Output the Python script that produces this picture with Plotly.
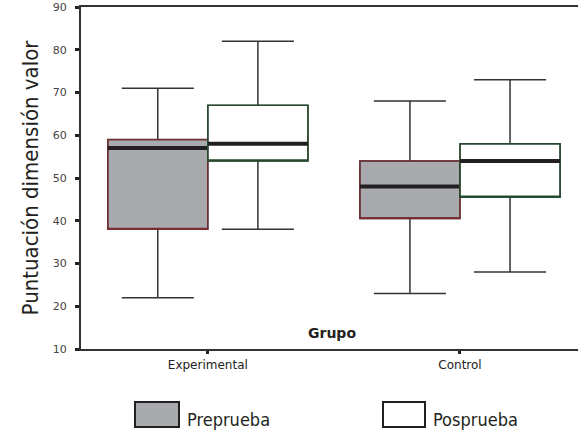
import plotly.graph_objects as go

groups = ["Experimental", "Control"]
pre_low = [22, 23]
pre_q1 = [38, 40.5]
pre_med = [57, 48]
pre_q3 = [59, 54]
pre_high = [71, 68]
pos_low = [38, 28]
pos_q1 = [54, 45.5]
pos_med = [58, 54]
pos_q3 = [67, 58]
pos_high = [82, 73]
series_names = ["Preprueba", "Posprueba"]

W, H = 578, 436
ML, MT, MB, MR = 81, 7, 87, 0
PW, PH = W - ML - MR, H - MT - MB

def px(x):
    return (x - ML) / PW

def py(y):
    return (H - MB - y) / PH

fig = go.Figure()

specs = [
    ("pre", pre_low, pre_q1, pre_med, pre_q3, pre_high, "#a9aaad", "#7a2e32"),
    ("pos", pos_low, pos_q1, pos_med, pos_q3, pos_high, "#ffffff", "#234d2e"),
]
for name, lo, q1, md, q3, hi, fill, edge in specs:
    fig.add_trace(go.Box(
        x=groups, q1=q1, median=md, q3=q3, lowerfence=lo, upperfence=hi,
        offsetgroup=name, fillcolor=fill, line=dict(color="#333333", width=1.5),
        whiskerwidth=0.72, showlegend=False, hoverinfo="skip",
    ))
    fig.add_trace(go.Box(
        x=groups, q1=q1, median=q1, q3=q3, lowerfence=q1, upperfence=q3,
        offsetgroup=name, fillcolor="rgba(0,0,0,0)", line=dict(color=edge, width=1.3),
        whiskerwidth=0, showlegend=False, hoverinfo="skip",
    ))
    fig.add_trace(go.Box(
        x=groups, q1=md, median=md, q3=md, lowerfence=md, upperfence=md,
        offsetgroup=name, fillcolor="rgba(0,0,0,0)", line=dict(color="#231f20", width=4),
        whiskerwidth=0, showlegend=False, hoverinfo="skip",
    ))

fig.update_layout(
    width=W, height=H,
    margin=dict(l=ML, r=MR, t=MT, b=MB, autoexpand=False),
    plot_bgcolor="white", paper_bgcolor="white",
    boxmode="group", boxgap=0.206, boxgroupgap=0,
    font=dict(family="DejaVu Sans", color="#333333"),
    xaxis=dict(
        type="category", range=[-0.503, 1.468], automargin=False,
        showline=True, linecolor="#333333", linewidth=2, mirror=True,
        ticks="outside", ticklen=3, tickwidth=3, tickcolor="#222222",
        tickfont=dict(family="DejaVu Sans", size=12, color="#222222"),
        ticklabelstandoff=1, showgrid=False, zeroline=False,
    ),
    yaxis=dict(
        range=[10, 90], tickvals=[10, 20, 30, 40, 50, 60, 70, 80, 90], automargin=False,
        showline=True, linecolor="#333333", linewidth=2,
        ticks="outside", ticklen=4, tickwidth=3, tickcolor="#222222",
        tickfont=dict(family="DejaVu Sans", size=11, color="#444444"),
        ticklabelstandoff=6, showgrid=False, zeroline=False,
        title=dict(text="Puntuación dimensión valor",
                   font=dict(family="Liberation Sans Narrow, Arial Narrow, DejaVu Sans Condensed, sans-serif",
                             size=22, color="#231f20"),
                   standoff=8),
    ),
)

fig.add_annotation(text="<b>Grupo</b>", xref="paper", yref="paper",
                   x=px(332), y=py(333), xanchor="center", yanchor="middle",
                   showarrow=False,
                   font=dict(family="DejaVu Sans", size=14, color="#231f20"))

legend_boxes = [(135, 179, "#a9aaad", 185), (383, 425, "#ffffff", 431)]
for (x0, x1, fill, tx), label in zip(legend_boxes, series_names):
    fig.add_shape(type="rect", xref="paper", yref="paper",
                  x0=px(x0), x1=px(x1), y0=py(427), y1=py(402),
                  fillcolor=fill, line=dict(color="#231f20", width=2))
    fig.add_annotation(text=label, xref="paper", yref="paper",
                       x=px(tx), y=py(419), xanchor="left", yanchor="middle",
                       showarrow=False,
                       font=dict(family="DejaVu Sans Condensed", size=18, color="#231f20"))

fig.write_html("out.html", config={"displayModeBar": False},
               post_script="document.body.style.margin='0px';document.body.style.overflow='hidden';")
